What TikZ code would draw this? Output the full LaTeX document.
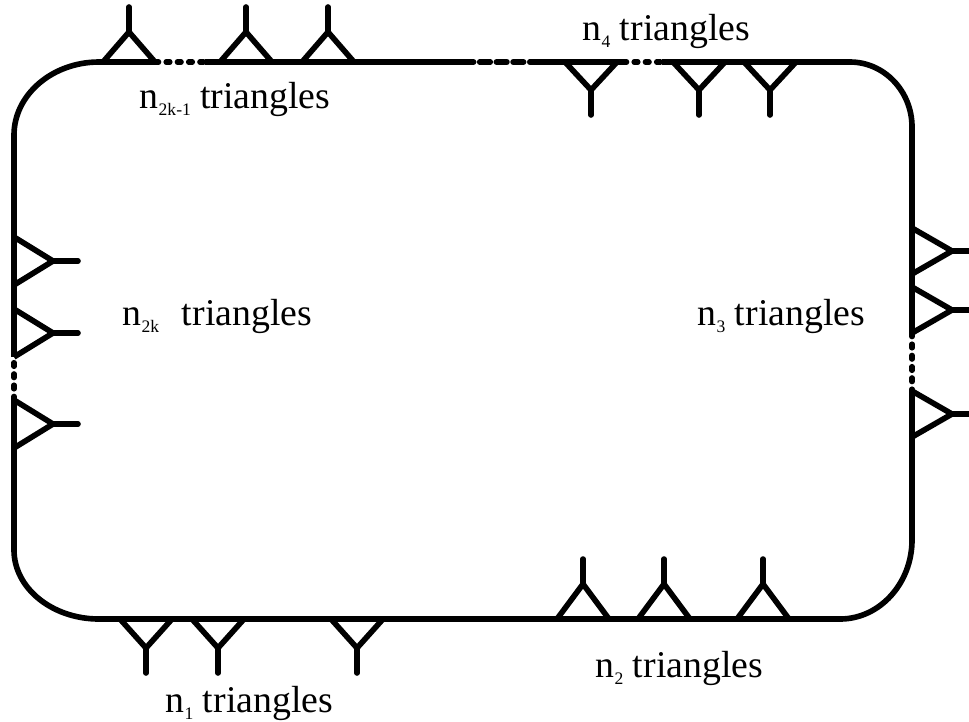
\documentclass[tikz,border=0pt]{standalone}
\usepackage{fontspec}
\setmainfont{Liberation Serif}
\usetikzlibrary{positioning}
\newcommand{\nsub}[1]{\raisebox{-4pt}{\fontsize{10}{10}\selectfont #1}}

\begin{document}
\begin{tikzpicture}[x=0.02cm, y=-0.02cm, line width=3.2pt,
  gapline/.style={dash pattern=on 2pt off 4.4pt, line cap=round},
  dashline/.style={dash pattern=on 6pt off 3.5pt, line cap=round},
  lbl/.style={font=\fontsize{21.5}{24}\selectfont, inner sep=0pt, anchor=base west},
  pics/prong/.style 2 args={code={
    \draw[line join=miter] (-#1,0) -- (0,-#2) -- (#1,0);
    \draw[line cap=round] (0,-#2) -- ++(0,-25);
  }}]
  \useasboundingbox (0,0) rectangle (969,721);

  % the loop, piece by piece
  \draw (14,135) .. controls (14,95) and (52,62) .. (99,62) -- (155,62);
  \draw[gapline] (155,62) -- (205,62);
  \draw (205,62) -- (463,62);
  \draw[dashline] (463,62) -- (540,62);
  \draw (540,62) -- (623,62);
  \draw[gapline] (623,62) -- (662,62);
  \draw (662,62) -- (850,62) .. controls (884,62) and (912,91) .. (912,127) -- (912,333);
  \draw[gapline] (912,333) -- (912,390);
  \draw (912,390) -- (912,540) .. controls (912,583) and (880,619) .. (840,619) -- (693,619);
  \draw[gapline] (693,619) -- (735,619);
  \draw (735,619) -- (245,619);
  \draw[gapline] (245,619) -- (327,619);
  \draw (327,619) -- (99,619) .. controls (52,619) and (14,588) .. (14,550) -- (14,400);
  \draw[gapline] (14,400) -- (14,357);
  \draw (14,357) -- (14,135);

  % triangles on each side
  \foreach \c in {129,246,328} \pic at (\c,62) {prong={26}{30}};
  \foreach \c in {591,699,770} \pic[rotate=180] at (\c,62) {prong={26}{28}};
  \foreach \c in {251,310,414} \pic[rotate=-90] at (912,\c) {prong={23}{40}};
  \foreach \c in {583,664,763} \pic at (\c,619) {prong={26}{35}};
  \foreach \c in {146,218,357} \pic[rotate=180] at (\c,619) {prong={26}{29}};
  \foreach \c in {261,333,424} \pic[rotate=-90] at (14,\c) {prong={24}{39}};

  \node[lbl] (topa) at (137,108) {n\nsub{2k-1} triangles};
  \node[lbl] (topb) at (580,40) {n\nsub{4} triangles};
  \node[lbl] (lefta) at (120,325) {n\nsub{2k}\hspace{0.6em}triangles};
  \node[lbl] (righta) at (695,325) {n\nsub{3} triangles};
  \node[lbl] (bota) at (163,712) {n\nsub{1} triangles};
  \node[lbl] (botb) at (593,677) {n\nsub{2} triangles};
\end{tikzpicture}
\end{document}
